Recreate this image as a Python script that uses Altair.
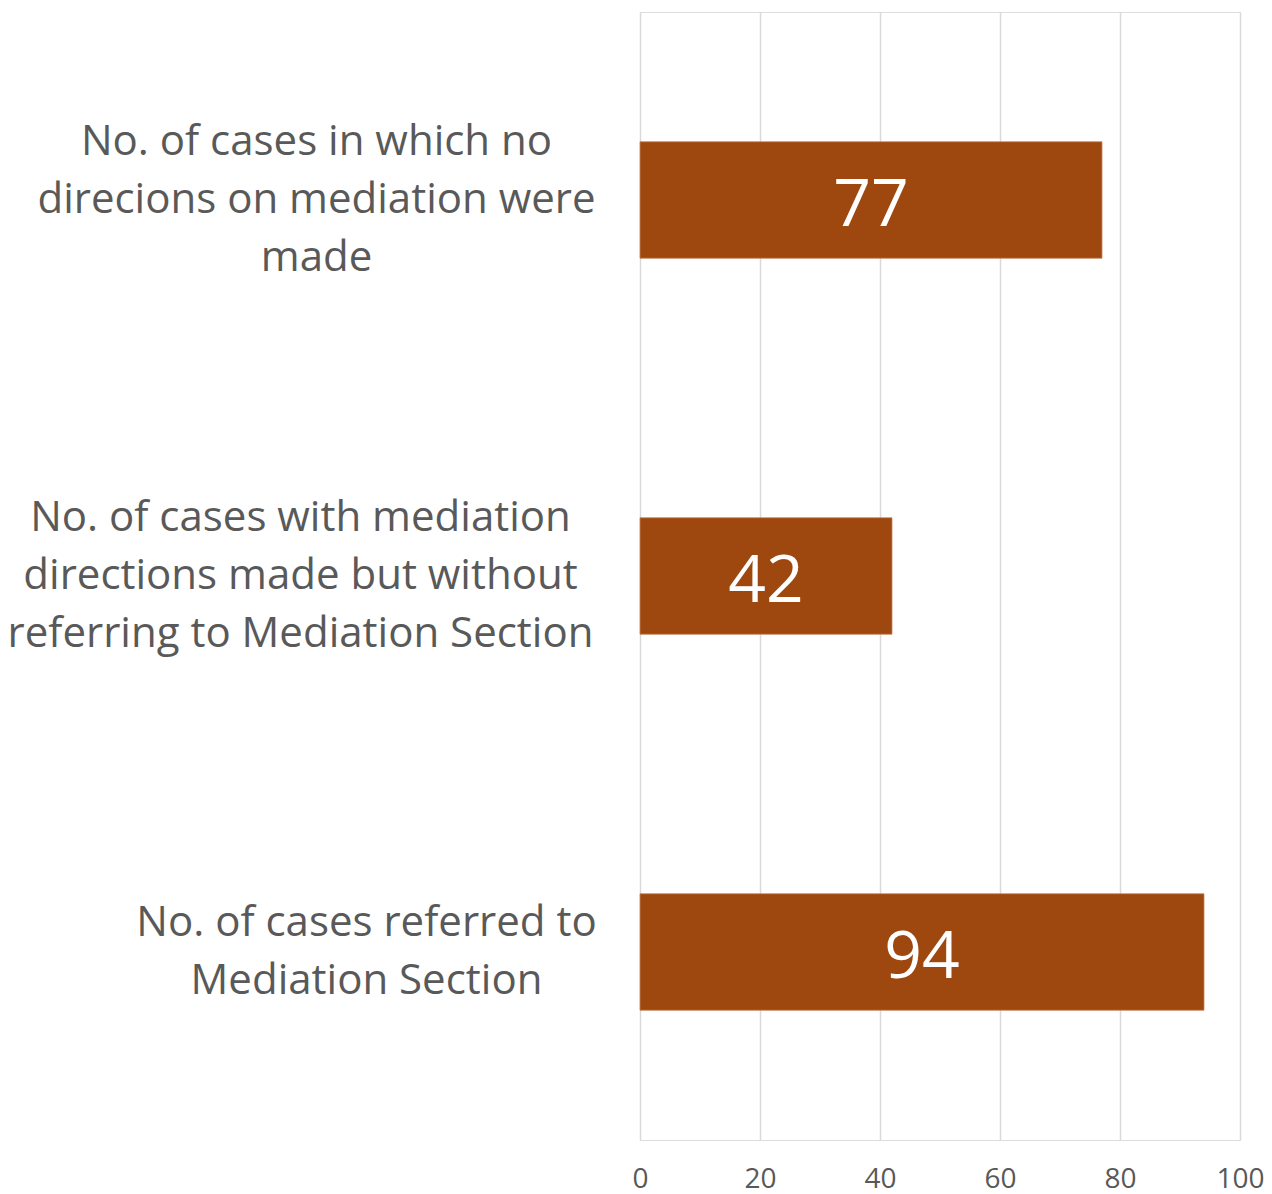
import altair as alt
import pandas as pd

categories = [
    "No. of cases in which no|direcions on mediation were|made",
    "No. of cases with mediation|directions made but without|referring to Mediation Section",
    "No. of cases referred to|Mediation Section",
]
values = [77, 42, 94]
x_ticks = [0, 20, 40, 60, 80, 100]

df = pd.DataFrame({"category": categories, "value": values})

label_pad = [324, 340, 274]
line_h = 58
pad_cond = {
    "condition": [
        {"test": f"datum.value === '{c}'", "value": p}
        for c, p in zip(categories, label_pad)
    ],
    "value": 300,
}
off_cond = {
    "condition": [
        {"test": f"datum.value === '{c}'", "value": -(len(c.split('|')) - 1) * line_h / 2}
        for c in categories
    ],
    "value": 0,
}

FONT = "Open Sans"
GRAY = "#595959"

base = alt.Chart(df)

bars = base.mark_bar(color="#9E470E", stroke="#C8875A", strokeWidth=0.8).encode(
    x=alt.X(
        "value:Q",
        scale=alt.Scale(domain=[0, 100], nice=False),
        axis=alt.Axis(
            values=x_ticks,
            title=None,
            domain=False,
            ticks=False,
            grid=True,
            gridColor="#D9D9D9",
            gridWidth=1.5,
            labelFont=FONT,
            labelFontSize=28,
            labelColor=GRAY,
            labelPadding=25,
            labelFlush=False,
        ),
    ),
    y=alt.Y(
        "category:N",
        sort=None,
        scale=alt.Scale(paddingInner=0.69, paddingOuter=0.345),
        axis=alt.Axis(
            title=None,
            domain=False,
            ticks=False,
            grid=False,
            labelExpr="split(datum.label, '|')",
            labelAlign="center",
            labelBaseline="middle",
            labelFont=FONT,
            labelFontSize=42,
            labelColor=GRAY,
            labelLineHeight=line_h,
            labelLimit=0,
            labelPadding=pad_cond,
            labelOffset=off_cond,
        ),
    ),
)

text = base.transform_calculate(mid="datum.value / 2").mark_text(
    color="white", font=FONT, fontSize=66, baseline="middle", align="center", dy=6
).encode(
    x="mid:Q",
    y=alt.Y("category:N", sort=None),
    text="value:Q",
)

chart = (
    alt.layer(bars, text)
    .properties(
        width=600,
        height=1128,
        autosize=alt.AutoSizeParams(type="none"),
        padding={"left": 632, "top": 4, "right": 24, "bottom": 58},
    )
    .configure_view(strokeWidth=0, stroke="transparent")
    .configure(background="white")
)

chart.save("out.html", embed_options={"renderer": "svg", "actions": False})
